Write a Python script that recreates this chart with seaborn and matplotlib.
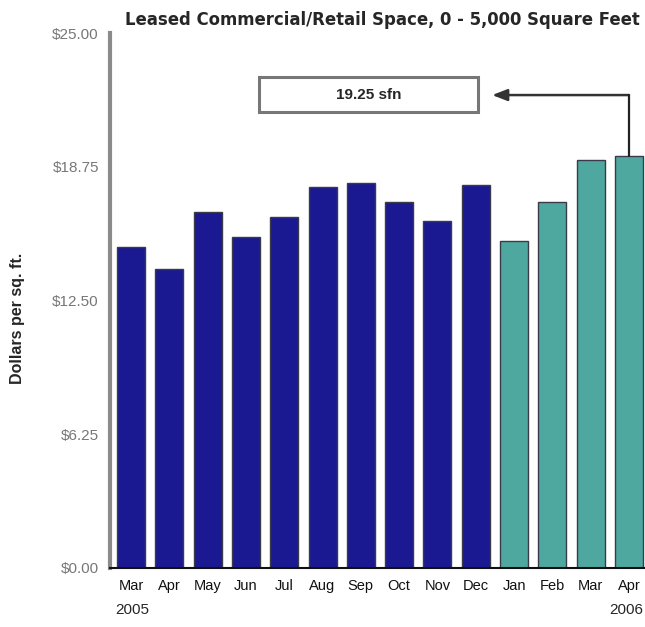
import matplotlib
matplotlib.use("Agg")
import matplotlib.pyplot as plt
import seaborn as sns
import pandas as pd
from matplotlib.patches import Rectangle

# ---- data ----
months = ["Mar", "Apr", "May", "Jun", "Jul", "Aug", "Sep", "Oct", "Nov", "Dec",
          "Jan", "Feb", "Mar", "Apr"]
years = ["2005"] * 10 + ["2006"] * 4
values = [15.0, 13.95, 16.65, 15.45, 16.4, 17.8, 18.0, 17.1, 16.2, 17.9,
          15.3, 17.1, 19.05, 19.25]
ytick_values = [0, 6.25, 12.5, 18.75, 25]
ytick_labels = ["$0.00", "$6.25", "$12.50", "$18.75", "$25.00"]
title = "Leased Commercial/Retail Space, 0 - 5,000 Square Feet"
ylabel = "Dollars per sq. ft."
callout = "19.25 sfn"
colors = {"2005": "#1a1992", "2006": "#4fa8a0"}

df = pd.DataFrame({
    "period": [f"{m} {y}" for m, y in zip(months, years)],
    "month": months,
    "year": years,
    "value": values,
})

sns.set_style("white")
plt.rcParams["font.family"] = ["Liberation Sans", "DejaVu Sans"]

fig = plt.figure(figsize=(6.45, 6.27), dpi=100)
ax = fig.add_axes([110 / 645, (627 - 568) / 627, (645 - 110) / 645, (568 - 33) / 627])

sns.barplot(data=df, x="period", y="value", hue="year", palette=colors,
            dodge=False, width=0.73, ax=ax, legend=False, saturation=1,
            edgecolor="#3a3a4a", linewidth=1.0)

ax.set_xlim(-0.55, 13.42)
ax.set_ylim(0, 25)
ax.set_yticks(ytick_values)
ax.set_yticklabels(ytick_labels, color="#777777", fontsize=11)
ax.set_xticks(range(len(months)))
ax.set_xticklabels(months, fontsize=10.5, color="#111111")
ax.tick_params(axis="y", direction="in", length=5, width=1.2, color="#222222", pad=8)
ax.tick_params(axis="x", length=0, pad=8)
ax.set_xlabel("")
ax.set_ylabel("")

for s in ["top", "right"]:
    ax.spines[s].set_visible(False)
ax.spines["left"].set_color("#8a8a8a")
ax.spines["left"].set_linewidth(3)
ax.spines["bottom"].set_color("#111111")
ax.spines["bottom"].set_linewidth(1.5)

# title
fig.text(640 / 645, 1 - 20 / 627, title, fontsize=11.9, fontweight="bold",
         ha="right", va="center", family=["DejaVu Sans"])
# y label
fig.text(18 / 645, 1 - 318 / 627, ylabel, rotation=90, fontsize=11.5, fontweight="bold",
         ha="center", va="center")
# year labels
fig.text(115 / 645, 1 - 610 / 627, years[0], fontsize=11, ha="left", va="center")
fig.text(643 / 645, 1 - 610 / 627, years[-1], fontsize=11, ha="right", va="center")

# callout box
ax.add_patch(Rectangle((3.35, 21.3), 9.06 - 3.35, 22.94 - 21.3, facecolor="white",
                       edgecolor="#777777", linewidth=2.2, clip_on=False, zorder=5))
ax.text((3.35 + 9.06) / 2, (21.3 + 22.94) / 2, callout, ha="center", va="center",
        fontsize=11, fontweight="bold", zorder=6)

# arrow from last bar to callout
last = len(values) - 1
ax.plot([last, last], [values[last], 22.1], color="#222222", lw=1.6, zorder=4, clip_on=False)
ax.annotate("", xy=(9.43, 22.1), xytext=(last, 22.1),
            arrowprops=dict(arrowstyle="-|>,head_length=0.9,head_width=0.35",
                            color="#333333", lw=1.8, shrinkA=0, shrinkB=0))

fig.savefig("out.png", dpi=100, facecolor="white")
